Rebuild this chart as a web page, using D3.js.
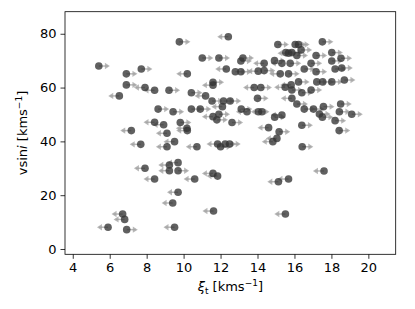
<!DOCTYPE html>
<html>
<head>
<meta charset="utf-8">
<script src="https://cdn.jsdelivr.net/npm/d3@7"></script>
<style>
  body { margin: 0; background: #fff; }
  text { font-family: "DejaVu Sans", sans-serif; }
</style>
</head>
<body>
<svg id="chart" width="415" height="309"></svg>
<script>
// microturbulence (km/s), vsini (km/s) and which way the limit arrow points
var xiValues = [5.41,6.9,7.71,6.9,7.91,8.43,9.21,6.52,8.62,9.43,8.43,8.92,9.77,7.17,9.1,7.68,9.51,9.1,9.7,9.23,
  7.91,9.23,9.7,8.43,9.7,9.41,6.7,6.81,5.91,6.92,9.51,9.82,11.8,12.62,10.2,10.72,11.84,12.0,12.25,12.49,
  10.6,11.59,11.84,11.62,14.6,15.17,15.05,14.83,15.13,15.68,15.51,16.4,18.2,18.42,16.42,17.6,12.42,15.1,15.53,15.68,
  11.01,11.91,13.21,13.1,14.36,14.92,10.2,12.31,12.8,13.1,14.04,14.36,15.23,15.68,11.59,11.59,10.42,11.19,11.54,12.16,
  12.52,12.1,13.82,14.18,14.0,15.5,10.42,10.9,10.18,11.59,11.91,13.12,13.43,14.05,14.24,14.93,15.32,16.04,16.22,17.51,
  15.86,16.36,16.13,17.17,18.02,18.52,18.02,15.32,15.77,16.9,17.17,16.53,18.2,16.22,17.21,17.53,18.02,18.7,15.82,15.86,
  16.4,16.9,15.86,16.13,16.53,17.03,17.57,17.35,17.51,18.5,18.43,19.1,18.56];
var vsiniValues = [68,65.1,66.9,61,60,59,59,56.9,52,51,47.1,46.2,77,44,43,38.9,39.9,38,32.1,31.2,
  30,29.1,29.1,26,21.1,17.1,13,11,8.1,7.2,8.1,47,48,47,44,38,39,38,39,39,
  26,28.1,27.1,14.1,45.1,43.6,41.1,39.9,25,26,13,46,47.7,44,38,29,78.9,76,73,72.8,
  71,71,71,69.9,69,70,65.1,66.9,65.9,65.9,66.1,66.3,65.1,65.1,62,60.9,58.1,56.9,55,55,
  55,52.9,60,60,56,60.1,52,52,44.9,49.2,50.1,52,51,51,51,49,49.8,76,76,77,
  73,74,71.9,71.9,73,70.9,69.9,69,69,69,65.9,66.9,66.9,62.1,62.1,62.1,62.1,62.8,61,59.1,
  58.1,59.1,56,53.9,52,52,52.9,50.2,49,53.9,51,50.1,67.3];
var arrowDir = ["r","r","r","r","l","l","r","l","r","r","l","l","r","l","l","l","l","l","l","l",
  "l","l","r","l","l","l","l","l","l","r","l","r","r","r","l","l","l","r","r","r",
  "l","l","l","l","l","r","l","l","l","l","l","r","r","r","r","l","l","r","r","l",
  "r","r","r","r","l","r","l","l","r","r","l","r","l","r","r","l","r","l","r","r",
  "r","l","l","r","r","l","r","r","l","l","r","r","l","r","l","r","l","r","r","r",
  "r","r","r","r","r","r","r","l","r","r","r","r","r","r","r","r","r","r","l","r",
  "r","r","l","r","r","r","r","r","r","r","r","r","r"];
var xTicks = [4, 6, 8, 10, 12, 14, 16, 18, 20];
var yTicks = [0, 20, 40, 60, 80];

var svg = d3.select("#chart");
var box = { left: 65, top: 11.7, right: 395.7, bottom: 254.3 };

var x = d3.scaleLinear().domain([3.58, 21.48]).range([box.left, box.right]);
var y = d3.scaleLinear().domain([-1.97, 88.2]).range([box.bottom, box.top]);

var points = xiValues.map(function(v, i){
	return { xi: v, vsini: vsiniValues[i], dir: arrowDir[i] };
});

// limit arrows first, points drawn over them
var arrowLen = 0.6;
var arrows = svg.append("g").attr("class", "arrows");
points.forEach(function(d){
	var s = d.dir === "r" ? 1 : -1;
	var x0 = x(d.xi), x1 = x(d.xi + s * arrowLen), yy = y(d.vsini);
	arrows.append("line")
		.attr("x1", x0).attr("y1", yy)
		.attr("x2", x1 - s * 2).attr("y2", yy)
		.attr("stroke", "#a0a0a0").attr("stroke-width", 1.5).attr("opacity", 0.75);
	arrows.append("path")
		.attr("d", "M" + x1 + "," + yy + "L" + (x1 - s * 5) + "," + (yy - 3.2) + "L" + (x1 - s * 5) + "," + (yy + 3.2) + "Z")
		.attr("fill", "#a0a0a0").attr("opacity", 0.75);
});

svg.append("g").attr("class", "points")
	.selectAll("circle").data(points).enter()
	.append("circle")
		.attr("cx", function(d){ return x(d.xi); })
		.attr("cy", function(d){ return y(d.vsini); })
		.attr("r", 3.8)
		.attr("fill", "#333")
		.attr("opacity", 0.78);

// axes
var xAxis = svg.append("g")
	.attr("transform", "translate(0," + box.bottom + ")")
	.call(d3.axisBottom(x).tickValues(xTicks).tickSize(4.5).tickPadding(4).tickSizeOuter(0));
var yAxis = svg.append("g")
	.attr("transform", "translate(" + box.left + ",0)")
	.call(d3.axisLeft(y).tickValues(yTicks).tickSize(4.5).tickPadding(4).tickSizeOuter(0));
[xAxis, yAxis].forEach(function(a){
	a.select(".domain").remove();
	a.selectAll("text").attr("font-size", "13px").attr("fill", "#000").style("font-family", "DejaVu Sans");
	a.selectAll("line").attr("stroke", "#000").attr("stroke-width", 0.8);
});

svg.append("rect")
	.attr("x", box.left).attr("y", box.top)
	.attr("width", box.right - box.left).attr("height", box.bottom - box.top)
	.attr("fill", "none").attr("stroke", "#000").attr("stroke-width", 0.8);

// axis labels
var xl = svg.append("text")
	.attr("x", (box.left + box.right) / 2).attr("y", 291)
	.attr("text-anchor", "middle").attr("font-size", "13px");
xl.append("tspan").attr("font-style", "italic").text("ξ");
xl.append("tspan").attr("font-size", "9px").attr("dy", 3).text("t");
xl.append("tspan").attr("dy", -3).text(" [kms");
xl.append("tspan").attr("font-size", "9px").attr("dy", -5).text("−1");
xl.append("tspan").attr("dy", 5).text("]");

var yl = svg.append("text")
	.attr("transform", "translate(27," + ((box.top + box.bottom) / 2) + ") rotate(-90)")
	.attr("text-anchor", "middle").attr("font-size", "13px");
yl.append("tspan").text("vsin");
yl.append("tspan").attr("font-style", "italic").text("i");
yl.append("tspan").text(" [kms");
yl.append("tspan").attr("font-size", "9px").attr("dy", -5).text("−1");
yl.append("tspan").attr("dy", 5).text("]");
</script>
</body>
</html>
